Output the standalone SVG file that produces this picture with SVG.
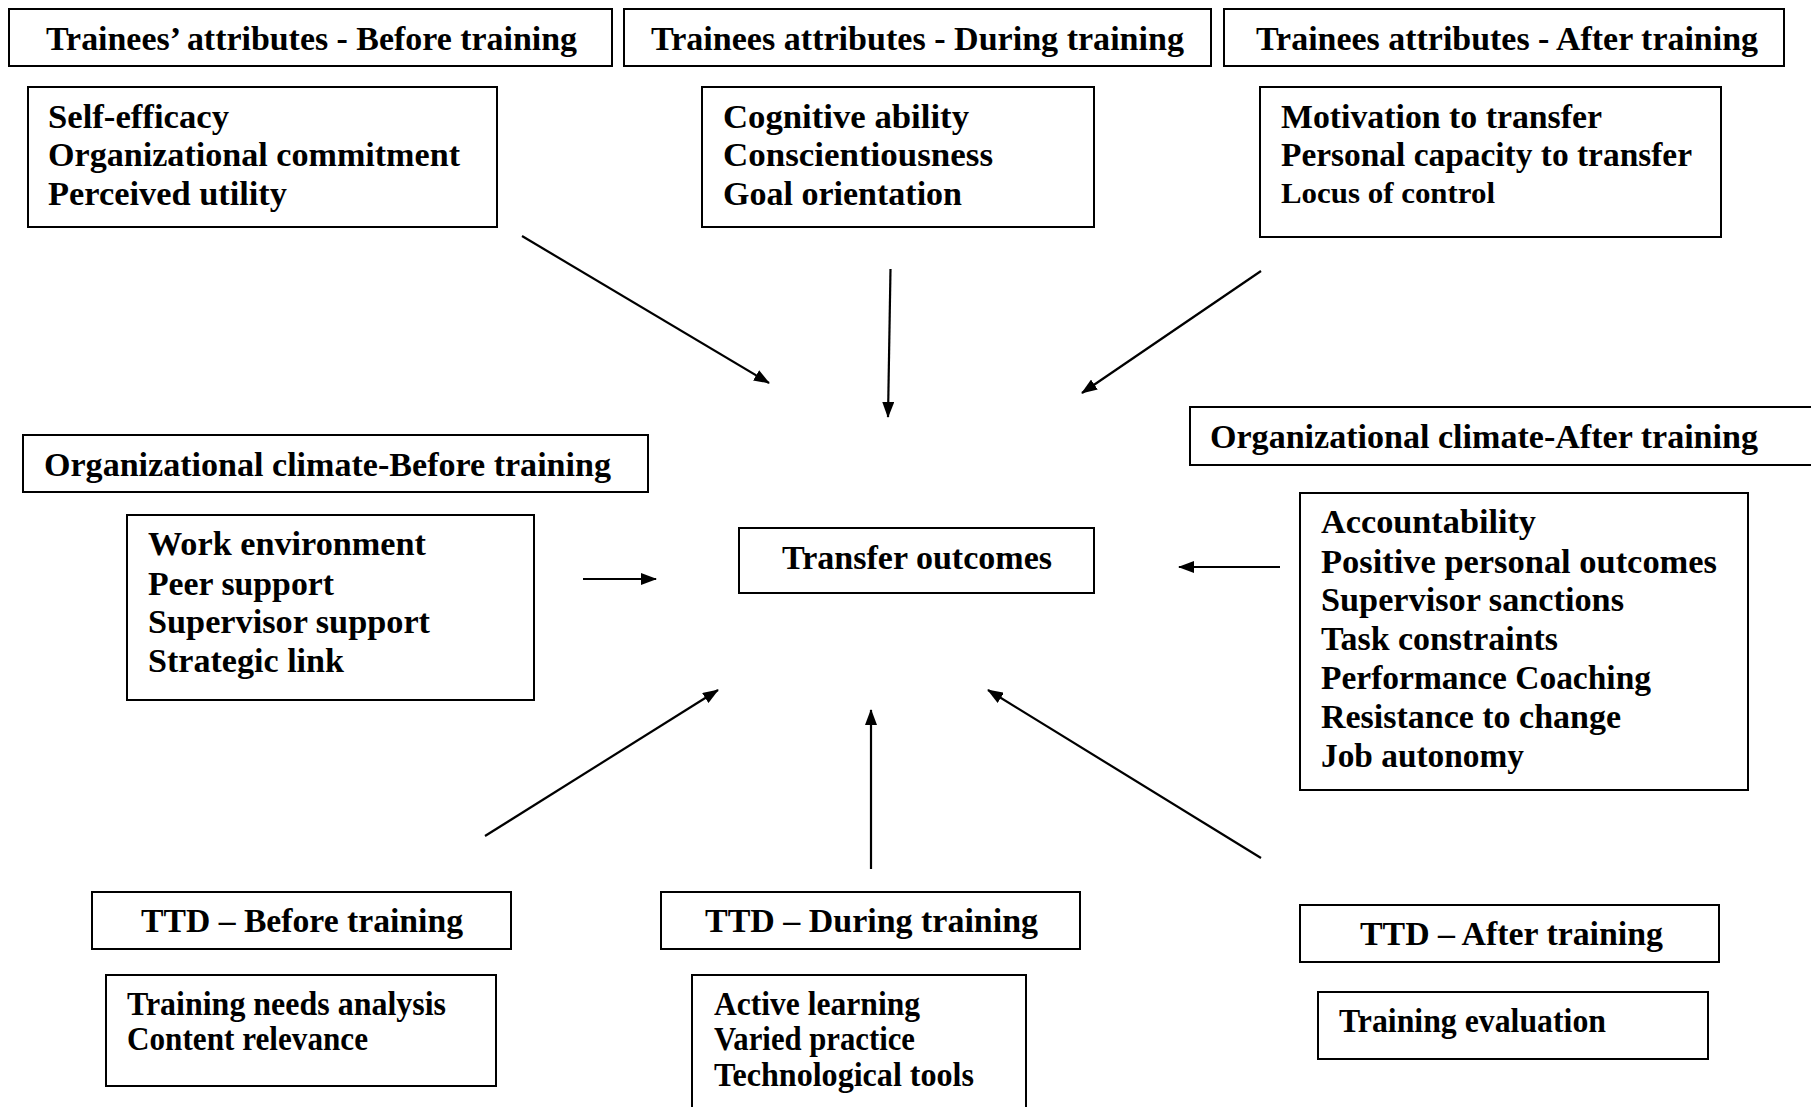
<svg xmlns="http://www.w3.org/2000/svg" width="1811" height="1107" viewBox="0 0 1811 1107">
<style>
rect.b{fill:#fff;stroke:#000;stroke-width:2}
text{font-family:"Liberation Serif","Times New Roman",serif;font-weight:bold;font-size:33px;fill:#000}
.c{stroke:#000;stroke-width:2.2;fill:none}
</style>
<defs>
<marker id="ah" viewBox="0 0 16 12" refX="15" refY="6" markerWidth="16" markerHeight="12" markerUnits="userSpaceOnUse" orient="auto">
<path d="M0,0 L16,6 L0,12 z" fill="#000"/>
</marker>
</defs>
<rect width="1811" height="1107" fill="#fff"/>
<g id="ta-before-h"><rect class="b" x="9" y="9" width="603" height="57"/><text x="46" y="50" textLength="531" lengthAdjust="spacingAndGlyphs">Trainees’ attributes - Before training</text></g>
<g id="ta-before"><rect class="b" x="28" y="87" width="469" height="140"/>
<text x="48" y="128" textLength="181" lengthAdjust="spacingAndGlyphs">Self-efficacy</text>
<text x="48" y="166" textLength="412" lengthAdjust="spacingAndGlyphs">Organizational commitment</text>
<text x="48" y="205" textLength="239" lengthAdjust="spacingAndGlyphs">Perceived utility</text></g>
<g id="ta-during-h"><rect class="b" x="624" y="9" width="587" height="57"/><text x="651" y="50" textLength="533" lengthAdjust="spacingAndGlyphs">Trainees attributes - During training</text></g>
<g id="ta-during"><rect class="b" x="702" y="87" width="392" height="140"/>
<text x="723" y="128" textLength="246" lengthAdjust="spacingAndGlyphs">Cognitive ability</text>
<text x="723" y="166" textLength="270" lengthAdjust="spacingAndGlyphs">Conscientiousness</text>
<text x="723" y="205" textLength="239" lengthAdjust="spacingAndGlyphs">Goal orientation</text></g>
<g id="ta-after-h"><rect class="b" x="1224" y="9" width="560" height="57"/><text x="1256" y="50" textLength="502" lengthAdjust="spacingAndGlyphs">Trainees attributes - After training</text></g>
<g id="ta-after"><rect class="b" x="1260" y="87" width="461" height="150"/>
<text x="1281" y="128" textLength="321" lengthAdjust="spacingAndGlyphs">Motivation to transfer</text>
<text x="1281" y="166" textLength="411" lengthAdjust="spacingAndGlyphs">Personal capacity to transfer</text>
<text x="1281" y="203" textLength="214" lengthAdjust="spacingAndGlyphs" style="font-size:29px">Locus of control</text></g>
<g id="oc-before-h"><rect class="b" x="23" y="435" width="625" height="57"/><text x="44" y="476" textLength="567" lengthAdjust="spacingAndGlyphs">Organizational climate-Before training</text></g>
<g id="oc-before"><rect class="b" x="127" y="515" width="407" height="185"/>
<text x="148" y="555" textLength="278" lengthAdjust="spacingAndGlyphs">Work environment</text>
<text x="148" y="595" textLength="186" lengthAdjust="spacingAndGlyphs">Peer support</text>
<text x="148" y="633" textLength="282" lengthAdjust="spacingAndGlyphs">Supervisor support</text>
<text x="148" y="672" textLength="196" lengthAdjust="spacingAndGlyphs">Strategic link</text></g>
<g id="transfer"><rect class="b" x="739" y="528" width="355" height="65"/><text x="782" y="569" textLength="270" lengthAdjust="spacingAndGlyphs">Transfer outcomes</text></g>
<g id="oc-after-h"><rect class="b" x="1190" y="407" width="640" height="58"/><text x="1210" y="448" textLength="548" lengthAdjust="spacingAndGlyphs">Organizational climate-After training</text></g>
<g id="oc-after"><rect class="b" x="1300" y="493" width="448" height="297"/>
<text x="1321" y="533" textLength="215" lengthAdjust="spacingAndGlyphs">Accountability</text>
<text x="1321" y="573" textLength="396" lengthAdjust="spacingAndGlyphs">Positive personal outcomes</text>
<text x="1321" y="611" textLength="303" lengthAdjust="spacingAndGlyphs">Supervisor sanctions</text>
<text x="1321" y="650" textLength="237" lengthAdjust="spacingAndGlyphs">Task constraints</text>
<text x="1321" y="689" textLength="330" lengthAdjust="spacingAndGlyphs">Performance Coaching</text>
<text x="1321" y="728" textLength="300" lengthAdjust="spacingAndGlyphs">Resistance to change</text>
<text x="1321" y="767" textLength="203" lengthAdjust="spacingAndGlyphs">Job autonomy</text></g>
<g id="ttd-before-h"><rect class="b" x="92" y="892" width="419" height="57"/><text x="141" y="932" textLength="322" lengthAdjust="spacingAndGlyphs">TTD – Before training</text></g>
<g id="ttd-before"><rect class="b" x="106" y="975" width="390" height="111"/>
<text x="127" y="1015" textLength="319" lengthAdjust="spacingAndGlyphs">Training needs analysis</text>
<text x="127" y="1050" textLength="241" lengthAdjust="spacingAndGlyphs">Content relevance</text></g>
<g id="ttd-during-h"><rect class="b" x="661" y="892" width="419" height="57"/><text x="705" y="932" textLength="333" lengthAdjust="spacingAndGlyphs">TTD – During training</text></g>
<g id="ttd-during"><rect class="b" x="692" y="975" width="334" height="150"/>
<text x="714" y="1015" textLength="206" lengthAdjust="spacingAndGlyphs">Active learning</text>
<text x="714" y="1050" textLength="201" lengthAdjust="spacingAndGlyphs">Varied practice</text>
<text x="714" y="1086" textLength="260" lengthAdjust="spacingAndGlyphs">Technological tools</text></g>
<g id="ttd-after-h"><rect class="b" x="1300" y="905" width="419" height="57"/><text x="1360" y="945" textLength="303" lengthAdjust="spacingAndGlyphs">TTD – After training</text></g>
<g id="ttd-after"><rect class="b" x="1318" y="992" width="390" height="67"/>
<text x="1339" y="1032" textLength="267" lengthAdjust="spacingAndGlyphs">Training evaluation</text></g>
<g id="connectors">
<line class="c" x1="522" y1="236" x2="769" y2="383" marker-end="url(#ah)"/>
<line class="c" x1="890.5" y1="269" x2="888" y2="417" marker-end="url(#ah)"/>
<line class="c" x1="1261" y1="271" x2="1082" y2="393" marker-end="url(#ah)"/>
<line class="c" x1="583" y1="579" x2="656" y2="579" marker-end="url(#ah)"/>
<line class="c" x1="1280" y1="567" x2="1179" y2="567" marker-end="url(#ah)"/>
<line class="c" x1="485" y1="836" x2="718" y2="690" marker-end="url(#ah)"/>
<line class="c" x1="871" y1="869" x2="871" y2="710" marker-end="url(#ah)"/>
<line class="c" x1="1261" y1="858" x2="988" y2="690" marker-end="url(#ah)"/>
</g>
</svg>
